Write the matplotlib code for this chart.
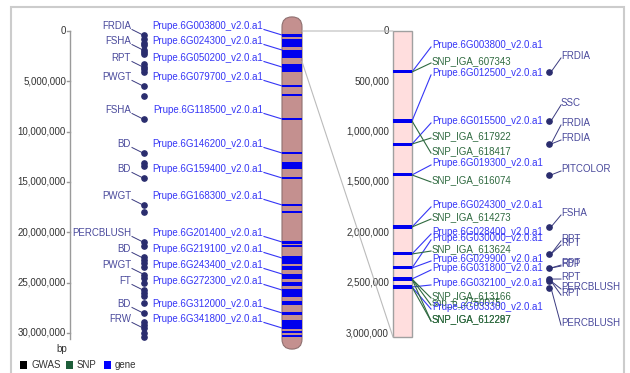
import matplotlib
matplotlib.use('Agg')
import matplotlib.pyplot as plt
from matplotlib.patches import Rectangle, FancyBboxPatch, ConnectionPatch

plt.rcParams['font.family'] = ['Liberation Sans', 'DejaVu Sans']

# ---- data (bp) ----
left_ticks = [0, 5000000, 10000000, 15000000, 20000000, 25000000, 30000000]
right_ticks = [0, 500000, 1000000, 1500000, 2000000, 2500000, 3000000]
zoom_range = (0, 3040000)
chrom_extent = (-1400000, 31600000)

left_band_start = [300000, 790000, 1890000, 3280000, 5360000, 6260000, 8640000,
                   12020000, 13010000, 14500000, 17180000, 17880000, 20860000,
                   21210000, 22350000, 23340000, 24140000, 24930000, 25630000,
                   26820000, 27910000, 28710000, 29800000, 30200000]
left_band_end = [600000, 1590000, 2680000, 4070000, 5560000, 6460000, 8840000,
                 12220000, 13710000, 14700000, 17380000, 18080000, 21110000,
                 21460000, 23150000, 23740000, 24640000, 25330000, 26420000,
                 27220000, 28210000, 29600000, 30000000, 30400000]

left_gene_ids = ['Prupe.6G003800_v2.0.a1', 'Prupe.6G024300_v2.0.a1',
                 'Prupe.6G050200_v2.0.a1', 'Prupe.6G079700_v2.0.a1',
                 'Prupe.6G118500_v2.0.a1', 'Prupe.6G146200_v2.0.a1',
                 'Prupe.6G159400_v2.0.a1', 'Prupe.6G168300_v2.0.a1',
                 'Prupe.6G201400_v2.0.a1', 'Prupe.6G219100_v2.0.a1',
                 'Prupe.6G243400_v2.0.a1', 'Prupe.6G272300_v2.0.a1',
                 'Prupe.6G312000_v2.0.a1', 'Prupe.6G341800_v2.0.a1']
left_gene_pos = [400000, 1890000, 3580000, 5460000, 8740000, 12120000, 14600000,
                 17280000, 20960000, 22550000, 24140000, 25730000, 28010000, 29500000]
left_gwas_traits = ['FRDIA', 'FSHA', 'RPT', 'PWGT', 'FSHA', 'BD', 'BD', 'PWGT',
                    'PERCBLUSH', 'BD', 'PWGT', 'FT', 'BD', 'FRW']
left_gwas_pos = [400000, 790000, 1190000, 1390000, 1890000, 2090000, 2280000,
                 3280000, 3580000, 3770000, 4070000, 5460000, 6460000, 8740000,
                 12120000, 13110000, 13410000, 14600000, 17280000, 17980000,
                 20960000, 21360000, 22450000, 22750000, 23050000, 23440000,
                 24240000, 24540000, 25030000, 25730000, 26030000, 26320000,
                 27020000, 28010000, 28910000, 29210000, 29500000, 30000000, 30400000]

right_band_start = [392000, 879000, 1108000, 1415000, 1932000, 2200000, 2339000, 2444000, 2528000]
right_band_end = [422000, 909000, 1138000, 1445000, 1962000, 2230000, 2369000, 2484000, 2558000]

right_label_text = ['Prupe.6G003800_v2.0.a1', 'SNP_IGA_607343', 'Prupe.6G012500_v2.0.a1',
                    'Prupe.6G015500_v2.0.a1', 'SNP_IGA_617922', 'SNP_IGA_618417',
                    'Prupe.6G019300_v2.0.a1', 'SNP_IGA_616074', 'Prupe.6G024300_v2.0.a1',
                    'SNP_IGA_614273', 'Prupe.6G028400_v2.0.a1', 'Prupe.6G030000_v2.0.a1',
                    'SNP_IGA_613624', 'Prupe.6G029900_v2.0.a1', 'Prupe.6G031800_v2.0.a1',
                    'Prupe.6G032100_v2.0.a1', 'SNP_IGA_613166', 'snp_6_2750075',
                    'Prupe.6G033300_v2.0.a1', 'SNP_IGA_612287', 'SNP_IGA_612297']
right_label_kind = ['gene', 'snp', 'gene', 'gene', 'snp', 'snp', 'gene', 'snp', 'gene',
                    'snp', 'gene', 'gene', 'snp', 'gene', 'gene', 'gene', 'snp', 'snp',
                    'gene', 'snp', 'snp']
right_label_anchor = [407000, 407000, 894000, 1123000, 1123000, 894000, 1430000, 1430000,
                      1947000, 1947000, 2215000, 2354000, 2215000, 2354000, 2464000,
                      2543000, 2464000, 2464000, 2543000, 2543000, 2464000]
right_label_at = [139000, 298000, 417000, 894000, 1043000, 1192000, 1311000, 1480000,
                  1728000, 1848000, 1997000, 2056000, 2166000, 2265000, 2354000,
                  2503000, 2632000, 2702000, 2742000, 2861000, 2861000]

right_gwas_pos = [407000, 894000, 1123000, 1430000, 1947000, 2215000, 2354000,
                  2464000, 2484000, 2553000]
right_trait_text = ['FRDIA', 'SSC', 'FRDIA', 'FRDIA', 'PITCOLOR', 'FSHA', 'RPT', 'RPT',
                    'RPT', 'FDP', 'RPT', 'PERCBLUSH', 'RPT', 'PERCBLUSH']
right_trait_anchor = [407000, 894000, 1123000, 1123000, 1430000, 1947000, 2215000,
                      2215000, 2354000, 2354000, 2464000, 2484000, 2484000, 2553000]
right_trait_at = [248000, 715000, 914000, 1063000, 1371000, 1808000, 2066000, 2106000,
                  2305000, 2315000, 2444000, 2543000, 2603000, 2901000]

# ---- layout ----
W, H = 630, 373
Y0 = 31                      # pixel row of 0 bp
PX_L = 302 / 30e6            # px per bp, whole chromosome
PX_R = 302 / 3e6             # px per bp, zoomed view
CL0, CL1 = 282, 302
CR0, CR1 = 393, 412
FS = 7

GENE_TXT = '#3636f6'
GENE_BAND = '#0000ee'
SNP_TXT = '#2f6a40'
TRAIT_TXT = '#4a4a9c'
DOT = '#2a2d6e'
TICK_TXT = '#333333'


def dl(px):
    return px / PX_L


def dr(px):
    return px / PX_R


def ly(px):
    return (px - Y0) / PX_L


fig = plt.figure(figsize=(W / 100, H / 100), dpi=100)
ax = fig.add_axes([0, 0, 1, 1])
ax.set_xlim(0, W)
ax.set_ylim((H - Y0) / PX_L, -Y0 / PX_L)
ax.axis('off')

ax2 = fig.add_axes([0, 0, 1, 1], sharex=ax)
ax2.set_ylim((H - Y0) / PX_R, -Y0 / PX_R)
ax2.axis('off')
ax2.patch.set_alpha(0)

# frame
fig.add_artist(Rectangle((11 / W, -0.05), 613 / W, (H - 7) / H + 0.05, fill=False,
                         ec='#cccccc', lw=1.5, transform=fig.transFigure))

# left axis
ax.plot([70, 70], [0, 30600000], color='#9a9a9a', lw=1)
for t in left_ticks:
    ax.plot([67, 70], [t, t], color='#9a9a9a', lw=1)
    ax.text(66, t, f'{t:,}', ha='right', va='center', fontsize=FS, color=TICK_TXT)
ax.text(67, ly(349), 'bp', ha='right', va='center', fontsize=FS, color=TICK_TXT)

# left chromosome
ax.add_patch(FancyBboxPatch((CL0, chrom_extent[0]), CL1 - CL0,
                            chrom_extent[1] - chrom_extent[0],
                            boxstyle='round,pad=0,rounding_size=10',
                            mutation_aspect=1 / PX_L,
                            fc='#c4908f', ec='#8f7070', lw=0.8, zorder=2))
ax.bar((CL0 + CL1) / 2, [e - s for s, e in zip(left_band_start, left_band_end)],
       bottom=left_band_start, width=CL1 - CL0, color=GENE_BAND, zorder=3)

# left gene labels
for gid, pos in zip(left_gene_ids, left_gene_pos):
    y = pos - dl(9)
    ax.text(263, y, gid, ha='right', va='center', fontsize=FS, color=GENE_TXT)
    ax.plot([264, CL0], [y + dl(3.5), pos], color=GENE_TXT, lw=0.8)

# left GWAS
ax.plot([144] * len(left_gwas_pos), left_gwas_pos, 'o', ms=3.8, color=DOT, zorder=4)
for tr, pos in zip(left_gwas_traits, left_gene_pos):
    y = pos - dl(9)
    ax.text(131, y, tr, ha='right', va='center', fontsize=FS, color=TRAIT_TXT)
    ax.plot([132, 143], [y + dl(3.5), pos], color='#3b3b80', lw=0.7)

# right (zoomed) chromosome
ax2.add_patch(Rectangle((CR0, zoom_range[0]), CR1 - CR0, zoom_range[1] - zoom_range[0],
                        fc='#ffdede', ec='#a0a0a0', lw=1, zorder=2))
ax2.bar((CR0 + CR1) / 2, [e - s for s, e in zip(right_band_start, right_band_end)],
        bottom=right_band_start, width=CR1 - CR0, color=GENE_BAND, zorder=3)
for t in right_ticks:
    ax2.text(389, t, f'{t:,}', ha='right', va='center', fontsize=FS, color=TICK_TXT)

for txt, kind, anc, at in zip(right_label_text, right_label_kind,
                              right_label_anchor, right_label_at):
    c = GENE_TXT if kind == 'gene' else SNP_TXT
    ax2.text(432, at, txt, ha='left', va='center', fontsize=FS, color=c)
    ax2.plot([CR1, 431], [anc, at + dr(2)], color=c, lw=0.8)

ax2.plot([549] * len(right_gwas_pos), right_gwas_pos, 'o', ms=3.8, color=DOT, zorder=4)
for txt, anc, at in zip(right_trait_text, right_trait_anchor, right_trait_at):
    ax2.text(561, at, txt, ha='left', va='center', fontsize=FS, color=TRAIT_TXT)
    ax2.plot([551, 561], [anc, at + dr(2)], color='#3b3b80', lw=0.7)

# zoom connectors
for v in zoom_range:
    fig.add_artist(ConnectionPatch(xyA=(CL1, v), xyB=(CR0, v),
                                   coordsA=ax.transData, coordsB=ax2.transData,
                                   color='#bbbbbb', lw=0.8))

# legend
for x0, col, lab in [(20, '#000000', 'GWAS'), (66, '#1e5e3a', 'SNP'), (104, '#0000ff', 'gene')]:
    ax.add_patch(Rectangle((x0, ly(361)), 7, dl(8), fc=col, ec='none'))
    ax.text(x0 + 11, ly(365), lab, ha='left', va='center', fontsize=FS, color=TICK_TXT)

fig.savefig('out.png', dpi=100)
